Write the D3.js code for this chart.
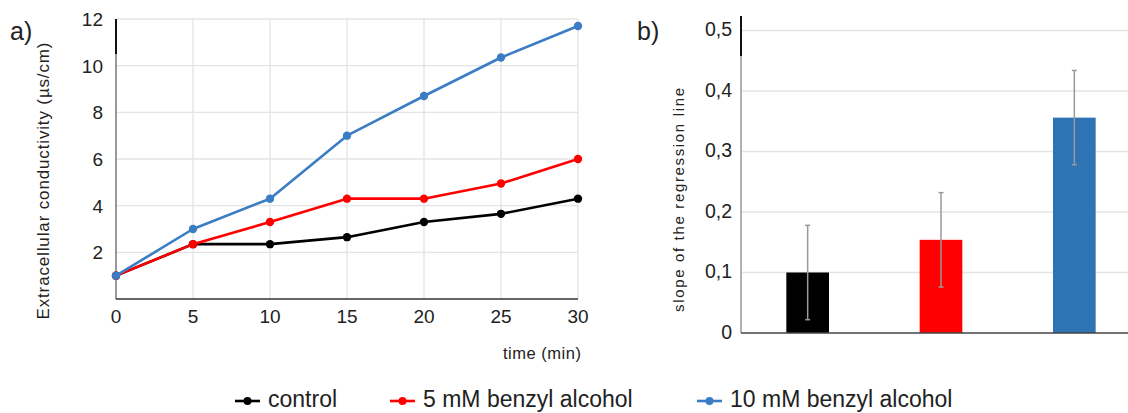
<!DOCTYPE html>
<html>
<head>
<meta charset="utf-8">
<script src="https://cdn.jsdelivr.net/npm/d3@7"></script>
<style>
  body { margin: 0; background: #fff; }
  text { font-family: "Liberation Sans", Arial, sans-serif; fill: #222; }
</style>
</head>
<body>
<svg id="chart" width="1128" height="413"></svg>
<script>
// a) conductivity over time
var times = [0, 5, 10, 15, 20, 25, 30];
var control = [1, 2.35, 2.35, 2.65, 3.3, 3.65, 4.3];
var benzyl5 = [1, 2.35, 3.3, 4.3, 4.3, 4.95, 6.0];
var benzyl10 = [1, 3.0, 4.3, 7.0, 8.7, 10.35, 11.7];
var yTicksA = [2, 4, 6, 8, 10, 12];

// b) slope of regression line
var groups = ["control", "5 mM benzyl alcohol", "10 mM benzyl alcohol"];
var slopes = [0.1, 0.154, 0.356];
var slopeErr = [0.078, 0.078, 0.078];
var yTicksB = [0, 0.1, 0.2, 0.3, 0.4, 0.5];

var lineColors = ["#000000", "#ff0000", "#3a7dc4"];
var barColors = ["#000000", "#ff0000", "#2e74b5"];

var svg = d3.select("#chart");
svg.append("rect").attr("width", 1128).attr("height", 413).attr("fill", "#fff");

// ---------- chart a ----------
var xA = d3.scaleLinear().domain([0, 30]).range([116, 578]);
var yA = d3.scaleLinear().domain([0, 12]).range([299, 19]);

var gA = svg.append("g");

// grid
gA.selectAll(".vgrid")
  .data(times.slice(1))
  .enter().append("line")
  .attr("x1", d => xA(d)).attr("x2", d => xA(d))
  .attr("y1", yA(0)).attr("y2", yA(12))
  .attr("stroke", "#e4e4e4").attr("stroke-width", 1.3);

gA.selectAll(".hgrid")
  .data(yTicksA)
  .enter().append("line")
  .attr("x1", xA(0)).attr("x2", xA(30))
  .attr("y1", d => yA(d)).attr("y2", d => yA(d))
  .attr("stroke", "#e4e4e4").attr("stroke-width", 1.3);

// axes
gA.append("line")
  .attr("x1", xA(0)).attr("x2", xA(0))
  .attr("y1", yA(0)).attr("y2", yA(12))
  .attr("stroke", "#777").attr("stroke-width", 1.5);
gA.append("line")
  .attr("x1", xA(0)).attr("x2", xA(0))
  .attr("y1", yA(12)).attr("y2", yA(10.5))
  .attr("stroke", "#111").attr("stroke-width", 2);
gA.append("line")
  .attr("x1", xA(0)).attr("x2", xA(30))
  .attr("y1", yA(0)).attr("y2", yA(0))
  .attr("stroke", "#333").attr("stroke-width", 1.6);

gA.selectAll(".ytick")
  .data(yTicksA)
  .enter().append("text")
  .attr("x", xA(0) - 13)
  .attr("y", d => yA(d))
  .attr("dy", "0.36em")
  .attr("text-anchor", "end")
  .attr("font-size", 19)
  .text(d => d);

gA.selectAll(".xtick")
  .data(times)
  .enter().append("text")
  .attr("x", d => xA(d))
  .attr("y", 323)
  .attr("text-anchor", "middle")
  .attr("font-size", 19)
  .text(d => d);

gA.append("text")
  .attr("x", 503).attr("y", 359)
  .attr("font-size", 16.5)
  .attr("textLength", 78)
  .text("time (min)");

gA.append("text")
  .attr("transform", "translate(49,181) rotate(-90)")
  .attr("text-anchor", "middle")
  .attr("font-size", 17)
  .attr("textLength", 277)
  .text("Extracellular conductivity  (\u00b5s/cm)");

svg.append("text")
  .attr("x", 10).attr("y", 40)
  .attr("font-size", 25)
  .text("a)");

var line = d3.line()
  .x((d, i) => xA(times[i]))
  .y(d => yA(d));

[control, benzyl5, benzyl10].forEach(function(series, k) {
  gA.append("path")
    .attr("d", line(series))
    .attr("fill", "none")
    .attr("stroke", lineColors[k])
    .attr("stroke-width", 2.6)
    .attr("stroke-linejoin", "round");
  gA.selectAll(".dot" + k)
    .data(series)
    .enter().append("circle")
    .attr("cx", (d, i) => xA(times[i]))
    .attr("cy", d => yA(d))
    .attr("r", 4.2)
    .attr("fill", lineColors[k]);
});

// ---------- chart b ----------
var xB = d3.scaleBand().domain(groups).range([741, 1141]).paddingInner(0.68).paddingOuter(0.34);
var yB = d3.scaleLinear().domain([0, 0.5]).range([333, 30.5]);

var gB = svg.append("g");

gB.selectAll(".hgridB")
  .data(yTicksB.slice(1))
  .enter().append("line")
  .attr("x1", xB.range()[0]).attr("x2", 1128)
  .attr("y1", d => yB(d)).attr("y2", d => yB(d))
  .attr("stroke", "#e4e4e4").attr("stroke-width", 1.3);

gB.selectAll(".bar")
  .data(slopes)
  .enter().append("rect")
  .attr("x", (d, i) => xB(groups[i]))
  .attr("y", d => yB(d))
  .attr("width", xB.bandwidth())
  .attr("height", d => yB(0) - yB(d))
  .attr("fill", (d, i) => barColors[i]);

// error bars
slopes.forEach(function(v, i) {
  var cx = xB(groups[i]) + xB.bandwidth() / 2;
  var lo = yB(v - slopeErr[i]), hi = yB(v + slopeErr[i]);
  gB.append("line")
    .attr("x1", cx).attr("x2", cx).attr("y1", lo).attr("y2", hi)
    .attr("stroke", "#999").attr("stroke-width", 1.5);
  [lo, hi].forEach(function(yy) {
    gB.append("line")
      .attr("x1", cx - 2.5).attr("x2", cx + 2.5).attr("y1", yy).attr("y2", yy)
      .attr("stroke", "#999").attr("stroke-width", 1.5);
  });
});

gB.append("line")
  .attr("x1", 741).attr("x2", 741)
  .attr("y1", yB(0)).attr("y2", 16)
  .attr("stroke", "#888").attr("stroke-width", 1.3);
gB.append("line")
  .attr("x1", 741).attr("x2", 741)
  .attr("y1", 16).attr("y2", 56)
  .attr("stroke", "#111").attr("stroke-width", 2);
gB.append("line")
  .attr("x1", 741).attr("x2", 1128)
  .attr("y1", yB(0)).attr("y2", yB(0))
  .attr("stroke", "#444").attr("stroke-width", 1.6);

gB.selectAll(".ytickB")
  .data(yTicksB)
  .enter().append("text")
  .attr("x", 732)
  .attr("y", d => yB(d))
  .attr("dy", "0.3em")
  .attr("text-anchor", "end")
  .attr("font-size", 19.5)
  .text(d => d === 0 ? "0" : d3.format(".1f")(d).replace(".", ","));

gB.append("text")
  .attr("transform", "translate(684,200) rotate(-90)")
  .attr("text-anchor", "middle")
  .attr("font-size", 15)
  .attr("textLength", 224)
  .text("slope of the regression line");

svg.append("text")
  .attr("x", 637).attr("y", 40)
  .attr("font-size", 25)
  .text("b)");

// ---------- legend ----------
var legendX = [235, 390, 697];
var legend = svg.append("g");
groups.forEach(function(name, i) {
  var lx = legendX[i];
  legend.append("line")
    .attr("x1", lx).attr("x2", lx + 25).attr("y1", 401).attr("y2", 401)
    .attr("stroke", lineColors[i]).attr("stroke-width", 2.6);
  legend.append("circle")
    .attr("cx", lx + 12.5).attr("cy", 401).attr("r", 4)
    .attr("fill", lineColors[i]);
  legend.append("text")
    .attr("x", lx + 33).attr("y", 407)
    .attr("font-size", 23)
    .text(name);
});
</script>
</body>
</html>
